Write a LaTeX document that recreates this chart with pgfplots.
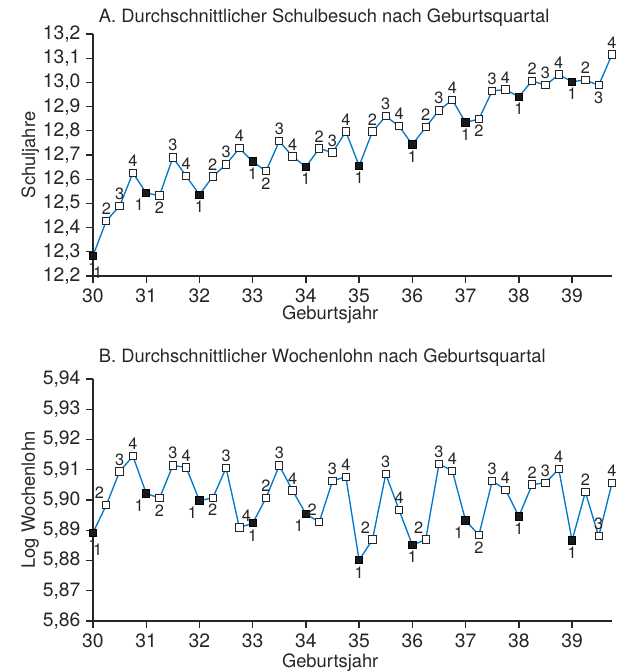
\documentclass[border=0pt]{standalone}
\usepackage{pgfplots}
\pgfplotsset{compat=1.18}
\usepackage{pgfplotstable}
\usepackage{fontspec}
\setmainfont{TeX Gyre Heros}
\definecolor{qline}{RGB}{0,120,200}

% x, value, quarter, label anchor (angle: 90 = below, 270 = above,
% 60 = below left, 300 = above left, 240 = above right)
\pgfplotstableread{
x y q a
30.00 12.284 1 90
30.25 12.428 2 270
30.50 12.489 3 270
30.75 12.626 4 270
31.00 12.543 1 60
31.25 12.532 2 90
31.50 12.690 3 270
31.75 12.613 4 270
32.00 12.536 1 90
32.25 12.611 2 270
32.50 12.661 3 270
32.75 12.728 4 270
33.00 12.673 1 90
33.25 12.633 2 90
33.50 12.757 3 270
33.75 12.694 4 270
34.00 12.651 1 90
34.25 12.727 2 270
34.50 12.710 3 270
34.75 12.797 4 270
35.00 12.655 1 90
35.25 12.797 2 270
35.50 12.860 3 270
35.75 12.819 4 270
36.00 12.743 1 90
36.25 12.815 2 270
36.50 12.884 3 270
36.75 12.928 4 270
37.00 12.834 1 90
37.25 12.849 2 90
37.50 12.965 3 270
37.75 12.970 4 270
38.00 12.941 1 90
38.25 13.007 2 270
38.50 12.988 3 270
38.75 13.032 4 270
39.00 13.003 1 90
39.25 13.010 2 270
39.50 12.988 3 90
39.75 13.115 4 270
}\dataA

\pgfplotstableread{
x y q a
30.00 5.8892 1 90
30.25 5.8983 2 300
30.50 5.9094 3 270
30.75 5.9145 4 270
31.00 5.9022 1 60
31.25 5.9006 2 90
31.50 5.9114 3 270
31.75 5.9108 4 270
32.00 5.8998 1 60
32.25 5.9007 2 90
32.50 5.9106 3 270
32.75 5.8909 4 240
33.00 5.8923 1 90
33.25 5.9007 2 270
33.50 5.9114 3 270
33.75 5.9031 4 270
34.00 5.8954 1 60
34.25 5.8927 2 300
34.50 5.9063 3 270
34.75 5.9077 4 270
35.00 5.8801 1 90
35.25 5.8869 2 300
35.50 5.9086 3 270
35.75 5.8967 4 270
36.00 5.8851 1 90
36.25 5.8869 2 300
36.50 5.9119 3 270
36.75 5.9097 4 270
37.00 5.8932 1 60
37.25 5.8884 2 90
37.50 5.9063 3 270
37.75 5.9034 4 270
38.00 5.8946 1 90
38.25 5.9051 2 270
38.50 5.9057 3 270
38.75 5.9102 4 270
39.00 5.8866 1 90
39.25 5.9026 2 270
39.50 5.8880 3 270
39.75 5.9056 4 270
}\dataB

\tikzset{qlab/.style={inner sep=3.6pt, font=\fontsize{9.8}{11}\selectfont, text=black!85}}

\pgfplotsset{
  quarterplot/.style={
    scale only axis,
    width=311.4pt, height=145.2pt,
    xmin=30, xmax=39.75,
    xtick={30,...,39},
    axis x line*=bottom, axis y line*=left,
    axis line style={black!85, line width=0.8pt, -},
    tick style={black!85, line width=0.8pt},
    tick align=outside,
    major tick length=4pt,
    ticklabel style={font=\fontsize{11.6}{13}\selectfont, text=black!85},
    label style={font=\fontsize{11}{13}\selectfont, text=black!85},
    title style={font=\fontsize{11}{13}\selectfont, text=black!85},
    /pgf/number format/assume math mode=true,
    x tick label style={/pgf/number format/.cd, fixed, precision=0, 1000 sep={}},
    unbounded coords=discard,
    clip=false,
  },
  q1marks/.style={only marks, mark=square*, mark size=2.2pt,
    mark options={draw=black, fill=black!90, line width=0.6pt},
    x filter/.expression={\thisrow{q}==1 ? x : nan}},
  qnmarks/.style={only marks, mark=square*, mark size=2.2pt,
    mark options={draw=black!85, fill=white, line width=0.6pt},
    x filter/.expression={\thisrow{q}>1 ? x : nan}},
  lab/.style={only marks, mark=none,
    point meta=explicit,
    nodes near coords={\pgfmathprintnumber[fixed, precision=0]{\pgfplotspointmeta}},
    every node near coord/.append style={anchor=#1, qlab},
    x filter/.expression={\thisrow{a}==#1 ? x : nan}},
}

\begin{document}
\begin{tikzpicture}
\begin{axis}[quarterplot,
  ymin=12.2, ymax=13.2,
  ytick={12.2,12.3,...,13.21},
  y tick label style={/pgf/number format/.cd, use comma, fixed, fixed zerofill, precision=1},
  title={A. Durchschnittlicher Schulbesuch nach Geburtsquartal},
  title style={at={(axis description cs:0,1)}, anchor=west, yshift=3.8pt},
  xlabel={Geburtsjahr},
  xlabel style={at={(axis description cs:0.457,-0.161)}, anchor=center},
  ylabel={Schuljahre},
  ylabel style={at={(axis description cs:-0.121,0.5)}, anchor=center},
]
\addplot[qline, line width=0.8pt] table[x=x, y=y] {\dataA}
  node[pos=0, anchor=100, qlab, yshift=-2.5pt, xshift=1.5pt] {1};
\addplot[q1marks] table[x=x, y=y] {\dataA};
\addplot[qnmarks] table[x=x, y=y] {\dataA};
\addplot[lab=270] table[x=x, y=y, meta=q] {\dataA};
\addplot[lab=90] table[x=x, y=y, meta=q] {\dataA};
\addplot[lab=60] table[x=x, y=y, meta=q] {\dataA};
\end{axis}

\begin{axis}[quarterplot, at={(0,-207pt)},
  ymin=5.86, ymax=5.94,
  ytick={5.86,5.87,...,5.941},
  y tick label style={/pgf/number format/.cd, use comma, fixed, fixed zerofill, precision=2},
  title={B. Durchschnittlicher Wochenlohn nach Geburtsquartal},
  title style={at={(axis description cs:0,1)}, anchor=west, yshift=6.6pt},
  xlabel={Geburtsjahr},
  xlabel style={at={(axis description cs:0.457,-0.174)}, anchor=center},
  ylabel={Log Wochenlohn},
  ylabel style={at={(axis description cs:-0.121,0.5)}, anchor=center},
]
\addplot[qline, line width=0.8pt] table[x=x, y=y] {\dataB}
  node[pos=0, anchor=100, qlab, yshift=-2.5pt, xshift=1.5pt] {1};
\addplot[q1marks] table[x=x, y=y] {\dataB};
\addplot[qnmarks] table[x=x, y=y] {\dataB};
\addplot[lab=270] table[x=x, y=y, meta=q] {\dataB};
\addplot[lab=90] table[x=x, y=y, meta=q] {\dataB};
\addplot[lab=60] table[x=x, y=y, meta=q] {\dataB};
\addplot[lab=300] table[x=x, y=y, meta=q] {\dataB};
\addplot[lab=240] table[x=x, y=y, meta=q] {\dataB};
\end{axis}
\pgfresetboundingbox
\useasboundingbox (-55.8pt,165.6pt) rectangle (316.8pt,-237pt);
\end{tikzpicture}
\end{document}
